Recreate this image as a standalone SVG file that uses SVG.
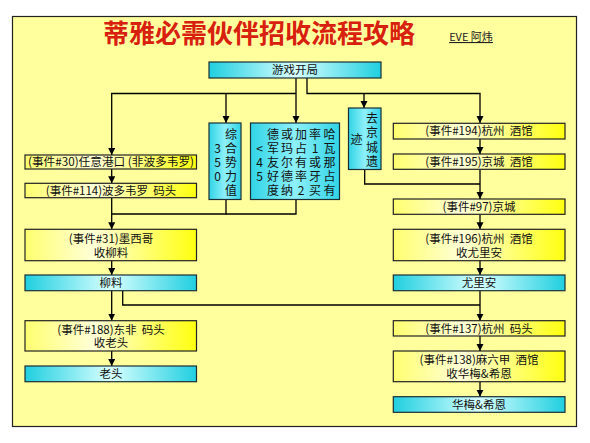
<svg xmlns="http://www.w3.org/2000/svg" width="590" height="443" viewBox="0 0 590 443">
<defs>
<linearGradient id="gy" x1="0" y1="0" x2="1" y2="0">
<stop offset="0" stop-color="#ffff70"/>
<stop offset="0.4" stop-color="#ffffd8"/>
<stop offset="1" stop-color="#ffff10"/>
</linearGradient>
<linearGradient id="gc" x1="0" y1="0" x2="1" y2="0">
<stop offset="0" stop-color="#20cfe0"/>
<stop offset="0.5" stop-color="#d8ffff"/>
<stop offset="1" stop-color="#20cfe0"/>
</linearGradient>
<linearGradient id="gcv" x1="0" y1="0" x2="1" y2="0">
<stop offset="0" stop-color="#30d4e6"/>
<stop offset="0.5" stop-color="#8ef0fa"/>
<stop offset="1" stop-color="#30d4e6"/>
</linearGradient>
<marker id="ah" markerUnits="userSpaceOnUse" markerWidth="8" markerHeight="8" refX="7" refY="3.5" orient="auto">
<path d="M0,0 L7,3.5 L0,7 z" fill="#000"/>
</marker>
</defs>
<style>
text{font-family:"Noto Sans CJK SC","Liberation Sans",sans-serif;fill:#111;}
.y{fill:url(#gy);stroke:#222;stroke-width:1.2;}
.c{fill:url(#gc);stroke:#1c2e34;stroke-width:1.2;}
.cv{fill:url(#gcv);stroke:#1c2e34;stroke-width:1.2;}
.l{font-size:11.5px;text-anchor:middle;}
.v{font-size:12px;text-anchor:middle;}
.cn path{fill:none;stroke:#000;stroke-width:1.3;}
.ar{marker-end:url(#ah);}
</style>
<rect x="0" y="0" width="590" height="443" fill="#fff"/>
<rect x="12.5" y="16.5" width="564" height="410" fill="#ffff9e" stroke="#222" stroke-width="1.2"/>
<text x="259" y="43" font-size="26" font-weight="bold" text-anchor="middle" style="fill:#d8200e">蒂雅必需伙伴招收流程攻略</text>
<text x="471" y="41" font-size="11" text-anchor="middle" text-decoration="underline" style="fill:#222">EVE 阿炜</text>

<g class="cn" id="connectors">
<path class="ar" d="M296,78 V123"/>
<path class="ar" d="M296,93.5 H111.7 V155"/>
<path class="ar" d="M226,93.5 V123"/>
<path class="ar" d="M307,78 V93.5 H480 V123"/>
<path class="ar" d="M364,93.5 V108"/>
<path class="ar" d="M111.7,169 V183.3"/>
<path class="ar" d="M111.7,197.7 V229.3"/>
<path d="M226,199.3 V214 H111.7"/>
<path d="M296,199.3 V214 H226"/>
<path class="ar" d="M111.7,260.7 V275"/>
<path class="ar" d="M111.7,290.7 V320.7"/>
<path class="ar" d="M111.7,351 V366"/>
<path d="M122.7,290.7 V305 H480"/>
<path class="ar" d="M480,139 V154"/>
<path class="ar" d="M480,169.3 V199"/>
<path d="M364.7,169.3 V184 H480"/>
<path class="ar" d="M480,214.3 V229.3"/>
<path class="ar" d="M480,260.7 V275"/>
<path class="ar" d="M480,290.7 V320.7"/>
<path class="ar" d="M480,336 V351"/>
<path class="ar" d="M480,381.7 V396.7"/>
</g>

<g id="start">
<rect class="c" x="209" y="62" width="172" height="16"/>
<text class="l" x="295" y="74">游戏开局</text>
</g>

<g id="power">
<rect class="cv" x="209" y="123" width="32" height="76.5"/>
<g class="v">
<text x="231" y="138.5">综</text>
<text x="231" y="152.5">合</text>
<text x="231" y="166.5">势</text>
<text x="231" y="180.5">力</text>
<text x="231" y="194.5">值</text>
<text x="217.5" y="152.5">3</text>
<text x="217.5" y="166.5">5</text>
<text x="217.5" y="180.5">0</text>
</g>
</g>

<g id="share">
<rect class="cv" x="250.5" y="123" width="89" height="76.5"/>
<g class="v">
<text x="273" y="138.5">德</text><text x="287" y="138.5">或</text><text x="301" y="138.5">加</text><text x="315" y="138.5">率</text><text x="329.5" y="138.5">哈</text>
<text x="259.5" y="152.5">&lt;</text><text x="273" y="152.5">军</text><text x="287" y="152.5">玛</text><text x="301" y="152.5">占</text><text x="315" y="152.5">1</text><text x="329.5" y="152.5">瓦</text>
<text x="259.5" y="166.5">4</text><text x="273" y="166.5">友</text><text x="287" y="166.5">尔</text><text x="301" y="166.5">有</text><text x="315" y="166.5">或</text><text x="329.5" y="166.5">那</text>
<text x="259.5" y="180.5">5</text><text x="273" y="180.5">好</text><text x="287" y="180.5">德</text><text x="301" y="180.5">率</text><text x="315" y="180.5">牙</text><text x="329.5" y="180.5">占</text>
<text x="273" y="194.5">度</text><text x="287" y="194.5">纳</text><text x="301" y="194.5">2</text><text x="315" y="194.5">买</text><text x="329.5" y="194.5">有</text>
</g>
</g>

<g id="ruins">
<rect class="cv" x="348.5" y="108" width="32.5" height="61.5"/>
<g class="v">
<text x="372" y="123">去</text>
<text x="372" y="137">京</text>
<text x="372" y="151.5">城</text>
<text x="372" y="166">遗</text>
<text x="356.5" y="143.5">迹</text>
</g>
</g>

<g id="e30">
<rect class="y" x="25" y="155" width="171.5" height="14"/>
<text class="l" x="111" y="166" textLength="166" lengthAdjust="spacingAndGlyphs">(事件#30)任意港口 (非波多韦罗)</text>
</g>
<g id="e114">
<rect class="y" x="25" y="183.3" width="171.5" height="14.4"/>
<text class="l" x="111" y="194.5" xml:space="preserve">(事件#114)波多韦罗  码头</text>
</g>
<g id="e31">
<rect class="y" x="25" y="229.3" width="171.5" height="31.4"/>
<text class="l" x="111" y="242.5">(事件#31)墨西哥</text>
<text class="l" x="111" y="256.5">收柳料</text>
</g>
<g id="liuliao">
<rect class="c" x="25" y="275" width="171.5" height="15.7"/>
<text class="l" x="111" y="287">柳料</text>
</g>
<g id="e188">
<rect class="y" x="25" y="320.7" width="171.5" height="30.3"/>
<text class="l" x="111" y="333.5" xml:space="preserve">(事件#188)东非  码头</text>
<text class="l" x="111" y="347">收老头</text>
</g>
<g id="laotou">
<rect class="c" x="25" y="366" width="171.5" height="15.7"/>
<text class="l" x="111" y="378">老头</text>
</g>

<g id="e194">
<rect class="y" x="393.3" y="123.3" width="171.7" height="15.7"/>
<text class="l" x="479" y="135.3" xml:space="preserve">(事件#194)杭州  酒馆</text>
</g>
<g id="e195">
<rect class="y" x="393.3" y="154" width="171.7" height="15.3"/>
<text class="l" x="479" y="165.8" xml:space="preserve">(事件#195)京城  酒馆</text>
</g>
<g id="e97">
<rect class="y" x="393.3" y="199" width="171.7" height="15.3"/>
<text class="l" x="479" y="210.8">(事件#97)京城</text>
</g>
<g id="e196">
<rect class="y" x="393.3" y="229.3" width="171.7" height="31.4"/>
<text class="l" x="479" y="242.5" xml:space="preserve">(事件#196)杭州  酒馆</text>
<text class="l" x="479" y="256.5">收尤里安</text>
</g>
<g id="yulian">
<rect class="c" x="393.3" y="275" width="171.7" height="15.7"/>
<text class="l" x="479" y="287">尤里安</text>
</g>
<g id="e137">
<rect class="y" x="393.3" y="320.7" width="171.7" height="15.3"/>
<text class="l" x="479" y="332.5" xml:space="preserve">(事件#137)杭州  码头</text>
</g>
<g id="e138">
<rect class="y" x="393.3" y="351" width="171.7" height="30.7"/>
<text class="l" x="479" y="364" xml:space="preserve">(事件#138)麻六甲  酒馆</text>
<text class="l" x="479" y="378">收华梅&amp;希恩</text>
</g>
<g id="huamei">
<rect class="c" x="393.3" y="396.7" width="171.7" height="15.6"/>
<text class="l" x="479" y="408.7">华梅&amp;希恩</text>
</g>
</svg>
